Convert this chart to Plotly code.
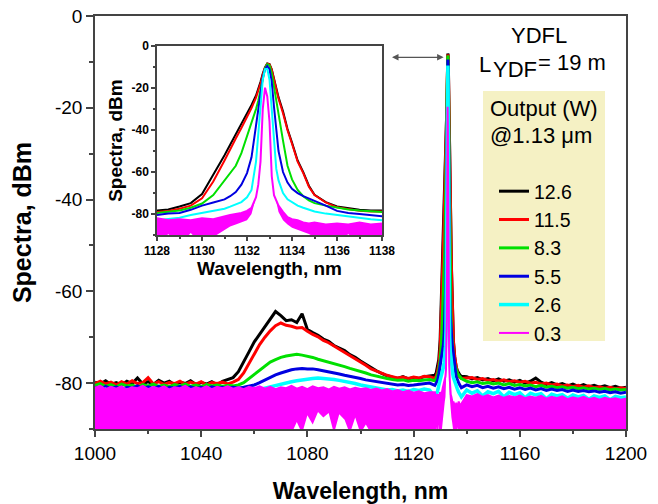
import plotly.graph_objects as go

# ---------------- data ----------------
wl_left = list(range(1000, 1128, 2))          # 1000 ... 1126 nm
wl_peak = [1128, 1128.5, 1129, 1129.5, 1130, 1130.5, 1131, 1131.25, 1131.5, 1131.75,
           1132, 1132.2, 1132.4, 1132.5, 1132.6, 1132.7, 1132.8, 1132.9, 1133.0, 1133.1,
           1133.2, 1133.3, 1133.4, 1133.6, 1133.8, 1134, 1134.25, 1134.5, 1134.75, 1135,
           1135.5, 1136, 1136.5, 1137, 1137.5, 1138]
wl_right = list(range(1140, 1202, 2))         # 1140 ... 1200 nm

power_labels = ["12.6", "11.5", "8.3", "5.5", "2.6", "0.3"]
colors = ["#000000", "#FF0000", "#00E000", "#0000E0", "#00FFFF", "#FF00FF"]

# 12.6 W
black_left = [-79.8, -80.2, -79.5, -80.3, -79.9, -80.4, -79.6, -80.1, -78.9, -80.2, -79.7, -80.3, -79.4,
              -80.0, -79.6, -80.4, -79.8, -80.1, -79.5, -80.3, -79.9, -80.2, -79.7, -80.4, -79.6, -79.2,
              -78.8, -77.5, -75.5, -73.2, -71.0, -69.3, -67.8, -66.0, -64.4, -65.3, -66.4, -66.2, -66.8,
              -64.9, -68.3, -69.0, -69.6, -70.4, -70.9, -71.8, -72.4, -72.9, -73.8, -74.4, -75.2, -75.9,
              -76.7, -77.3, -77.9, -78.4, -78.7, -79.0, -78.6, -79.1, -78.8, -79.0, -78.6, -78.4]
black_peak = [-78.3, -77.8, -76.4, -74.8, -70.5, -61.5, -52.0, -47.0, -42.0, -37.5,
              -32.5, -28.0, -23.5, -20.5, -17.0, -13.0, -10.0, -8.2, -8.5, -11.0,
              -15.5, -20.0, -24.3, -31.0, -39.5, -46.0, -54.5, -60.0, -66.5, -70.8,
              -74.3, -76.4, -77.3, -78.0, -78.3, -78.5]
black_right = [-78.6, -79.1, -78.8, -79.3, -79.0, -79.5, -79.1, -79.6, -79.3, -79.8, -79.4, -80.0, -79.6,
               -78.9, -79.8, -80.3, -79.9, -80.4, -80.1, -80.6, -80.2, -80.7, -80.3, -80.8, -80.5, -80.9,
               -80.6, -81.0, -80.7, -81.1, -80.9]

# 11.5 W
red_left = [-80.1, -79.6, -80.2, -79.8, -80.4, -79.7, -80.2, -79.5, -80.1, -79.9, -78.8, -80.2, -79.7,
            -80.3, -79.9, -80.1, -79.6, -80.3, -79.8, -80.2, -79.7, -80.4, -79.9, -80.1, -79.8, -80.2,
            -79.8, -79.2, -77.8, -75.8, -73.6, -71.6, -70.0, -68.6, -67.5, -66.9, -67.4, -67.6, -68.0,
            -67.9, -68.7, -69.4, -69.9, -70.7, -71.2, -71.9, -72.6, -73.2, -74.0, -74.7, -75.4, -76.1,
            -76.9, -77.4, -77.9, -78.3, -78.6, -78.9, -78.7, -79.0, -78.7, -78.9, -78.5, -78.6]
red_peak = [-79.0, -78.5, -77.5, -76.0, -72.5, -64.5, -54.5, -49.0, -44.0, -39.0,
            -34.0, -29.5, -24.5, -21.5, -17.8, -13.5, -10.3, -8.4, -8.7, -11.3,
            -16.0, -20.5, -25.0, -32.0, -40.0, -46.5, -55.0, -60.5, -67.0, -71.0,
            -74.5, -76.8, -77.8, -78.5, -78.8, -79.0]
red_right = [-78.9, -78.8, -79.2, -79.0, -79.4, -79.2, -79.6, -79.3, -79.7, -79.5, -79.8, -79.6, -80.0,
             -79.8, -80.2, -80.0, -80.4, -80.2, -80.6, -80.4, -80.8, -80.5, -80.9, -80.6, -81.0, -80.8,
             -81.1, -80.9, -81.2, -81.0, -81.2]

# 8.3 W
green_left = [-80.5, -80.1, -80.7, -80.3, -80.8, -80.2, -80.6, -80.4, -80.9, -80.3, -80.6, -80.2, -80.7,
              -80.4, -80.8, -80.3, -80.6, -80.2, -80.7, -80.4, -80.8, -80.3, -80.6, -80.4, -80.7, -80.5,
              -80.6, -80.4, -79.9, -79.0, -78.0, -77.0, -76.1, -75.4, -74.9, -74.4, -74.1, -73.9, -73.7,
              -73.9, -74.1, -74.4, -74.8, -75.1, -75.5, -75.8, -76.1, -76.4, -76.8, -77.1, -77.5, -77.8,
              -78.2, -78.5, -78.8, -79.0, -79.2, -79.4, -79.3, -79.6, -79.4, -79.5, -79.3, -79.2]
green_peak = [-79.5, -79.0, -78.3, -77.0, -75.0, -71.0, -64.0, -60.5, -57.0, -51.0,
              -43.0, -37.0, -30.0, -26.0, -20.5, -14.5, -10.5, -8.6, -9.2, -13.0,
              -19.5, -26.5, -33.5, -45.0, -57.0, -63.5, -68.5, -71.5, -73.5, -74.8,
              -76.0, -77.0, -77.8, -78.3, -78.8, -79.0]
green_right = [-79.6, -79.9, -79.7, -80.1, -79.9, -80.2, -80.0, -80.4, -80.1, -80.5, -80.3, -80.6, -80.4,
               -80.8, -80.5, -80.9, -80.7, -81.0, -80.8, -81.1, -80.9, -81.2, -81.0, -81.3, -81.1, -81.4,
               -81.2, -81.5, -81.3, -81.5, -81.4]

# 5.5 W
blue_left = [-80.9, -81.4, -80.7, -81.2, -80.8, -81.5, -80.9, -81.1, -80.6, -81.3, -80.8, -81.2, -80.7,
             -81.4, -80.9, -81.1, -80.7, -81.3, -80.8, -81.2, -80.9, -81.4, -80.8, -81.1, -80.9, -81.2,
             -80.9, -81.1, -80.9, -80.7, -80.4, -79.9, -79.3, -78.7, -78.2, -77.8, -77.4, -77.1, -76.9,
             -76.8, -76.9, -76.9, -77.1, -77.3, -77.5, -77.8, -78.0, -78.3, -78.5, -78.8, -79.0, -79.3,
             -79.5, -79.7, -79.9, -80.1, -80.2, -80.4, -80.3, -80.5, -80.4, -80.3, -80.1, -80.0]
blue_peak = [-80.5, -79.8, -79.5, -78.0, -76.0, -74.5, -73.0, -71.5, -69.5, -66.0,
             -60.5, -53.0, -38.0, -29.0, -22.0, -15.0, -11.0, -9.5, -11.0, -17.0,
             -29.0, -41.5, -50.0, -60.0, -65.0, -68.0, -70.0, -71.5, -72.6, -73.5,
             -76.0, -78.5, -79.5, -80.0, -80.5, -81.0]
blue_right = [-80.4, -80.8, -80.5, -81.0, -80.7, -81.1, -80.8, -81.2, -80.9, -81.3, -81.0, -81.4, -81.1,
              -81.5, -81.2, -81.6, -81.3, -81.6, -81.4, -81.8, -81.5, -81.8, -81.6, -81.9, -81.7, -82.0,
              -81.8, -82.1, -81.9, -82.2, -82.0]

# 2.6 W
cyan_left = [-81.6, -82.3, -81.4, -82.8, -81.7, -82.1, -81.5, -83.2, -81.8, -82.0, -81.6, -82.6, -81.5,
             -82.2, -81.7, -83.0, -81.6, -82.1, -81.8, -82.5, -81.5, -82.2, -81.9, -82.7, -81.6, -82.1,
             -81.7, -82.3, -81.8, -82.0, -81.6, -81.5, -81.1, -80.8, -80.5, -80.2, -80.0, -79.7, -79.5,
             -79.3, -79.1, -79.0, -78.9, -79.0, -79.0, -79.2, -79.4, -79.6, -79.9, -80.1, -80.4, -80.6,
             -80.9, -81.1, -81.3, -81.5, -81.4, -81.7, -81.5, -81.8, -81.4, -81.6, -81.3, -81.5]
cyan_peak = [-83.0, -82.5, -81.8, -80.5, -79.5, -78.3, -77.5, -76.5, -75.5, -74.3,
             -72.0, -68.5, -55.0, -41.5, -27.0, -16.0, -11.0, -10.8, -16.0, -30.0,
             -43.0, -58.5, -64.0, -70.0, -73.0, -74.5, -76.0, -77.0, -78.0, -78.8,
             -79.8, -80.5, -81.3, -82.0, -82.5, -83.0]
cyan_right = [-81.5, -82.2, -81.7, -82.8, -81.9, -82.3, -81.8, -83.0, -82.0, -82.5, -82.1, -83.2, -82.2,
              -82.6, -82.3, -83.4, -82.4, -82.8, -82.5, -83.3, -82.6, -83.0, -82.7, -83.5, -82.8, -83.1,
              -82.8, -83.6, -82.9, -83.2, -83.0]

# 0.3 W : upper edge of the noisy trace and lower edge of its noise floor
mag_up_left = [-81.0, -80.6, -81.3, -80.8, -81.2, -80.7, -81.4, -80.9, -81.1, -80.6, -81.3, -80.8, -81.2,
               -80.7, -81.4, -80.9, -81.1, -80.6, -81.3, -80.9, -81.2, -80.7, -81.3, -80.8, -81.1, -80.7,
               -81.2, -80.9, -81.3, -80.8, -81.1, -80.7, -81.2, -80.8, -81.3, -80.9, -81.1, -80.6, -81.2,
               -80.8, -81.3, -80.7, -81.1, -80.9, -81.4, -80.8, -81.2, -80.9, -81.4, -81.0, -81.3, -81.1,
               -81.5, -81.2, -81.6, -81.3, -81.8, -81.5, -82.0, -81.6, -82.1, -81.8, -82.2, -82.0]
mag_up_peak = [-82.0, -83.0, -82.5, -83.0, -82.0, -82.5, -81.0, -80.5, -80.0, -79.5,
               -78.5, -77.0, -72.0, -66.0, -55.0, -30.0, -19.8, -24.0, -36.0, -62.0,
               -71.0, -74.0, -76.0, -79.0, -81.5, -82.5, -83.0, -84.0, -84.5, -84.0,
               -85.0, -84.5, -85.0, -84.0, -85.0, -84.5]
mag_up_right = [-82.6, -82.9, -82.4, -83.0, -82.6, -83.1, -82.7, -83.2, -82.8, -83.1, -82.7, -83.3, -82.9,
                -83.2, -82.8, -83.4, -83.0, -83.3, -82.9, -83.5, -83.1, -83.4, -83.0, -83.5, -83.2, -83.6,
                -83.2, -83.5, -83.3, -83.6, -83.4]
mag_low_left = [-95.0] * 37 + [-91.0, -88.5, -91.0, -87.0, -89.0, -86.3, -87.5, -86.5, -91.0, -86.8,
                               -88.0, -91.0, -87.5, -91.0, -89.0, -91.0] + [-95.0] * 11
mag_low_peak = [-95.0, -89.5, -95.0, -89.0, -95.0, -91.0, -87.5, -86.0, -85.0, -84.0,
                -83.0, -80.0, -72.0, -66.0, -55.0, -30.0, -19.8, -24.0, -36.0, -62.0,
                -71.0, -74.0, -79.0, -83.0, -85.0, -86.5, -87.5, -88.5, -89.5, -91.0,
                -93.0, -95.0, -89.5, -95.0, -90.0, -95.0]
mag_low_right = [-95.0] * 31

main_xticks = [1000, 1040, 1080, 1120, 1160, 1200]
main_yticks = [0, -20, -40, -60, -80]
inset_xticks = [1128, 1130, 1132, 1134, 1136, 1138]
inset_yticks = [0, -20, -40, -60, -80]

# ---------------- assemble ----------------
wl = wl_left + wl_peak + wl_right
series = [
    black_left + black_peak + black_right,
    red_left + red_peak + red_right,
    green_left + green_peak + green_right,
    blue_left + blue_peak + blue_right,
    cyan_left + cyan_peak + cyan_right,
]
mag_up = mag_up_left + mag_up_peak + mag_up_right
mag_low = mag_low_left + mag_low_peak + mag_low_right

FONT = "Liberation Sans, Arial, sans-serif"
fig = go.Figure()

main_widths = [3, 3, 3, 3, 3.5]
inset_widths = [2, 2, 2, 2, 2]
for axes, widths, show in [(("x", "y"), main_widths, True), (("x2", "y2"), inset_widths, False)]:
    xa, ya = axes
    for i, ys in enumerate(series):
        fig.add_trace(go.Scatter(x=wl, y=ys, mode="lines", name=power_labels[i],
                                 line=dict(color=colors[i], width=widths[i]),
                                 showlegend=show, xaxis=xa, yaxis=ya))
    fig.add_trace(go.Scatter(x=wl, y=mag_low, mode="lines", line=dict(width=0, color=colors[5]),
                             showlegend=False, hoverinfo="skip", xaxis=xa, yaxis=ya))
    fig.add_trace(go.Scatter(x=wl, y=mag_up, mode="lines", fill="tonexty", fillcolor=colors[5],
                             line=dict(width=0, color=colors[5]),
                             showlegend=False, hoverinfo="skip", xaxis=xa, yaxis=ya))
    fig.add_trace(go.Scatter(x=wl, y=mag_up, mode="lines", name=power_labels[5],
                             line=dict(color=colors[5], width=2),
                             showlegend=show, xaxis=xa, yaxis=ya))

axis_common = dict(showgrid=False, zeroline=False, showline=True, linecolor="#444",
                   linewidth=1.5, mirror=True, ticks="outside", tickcolor="#444", tickwidth=1.5,
                   automargin=False)


def px_x(p):
    return (p - 95) / 531.0


def px_y(p):
    return (429 - p) / 413.0


fig.update_layout(
    width=658, height=504,
    margin=dict(l=95, r=32, t=16, b=75, autoexpand=False),
    paper_bgcolor="white", plot_bgcolor="rgba(0,0,0,0)",
    font=dict(family=FONT, color="#000"),
    xaxis=dict(range=[1000, 1200], tickvals=main_xticks, ticklen=6,
               tickfont=dict(size=19),
               minor=dict(dtick=20, tick0=1000, ticks="outside", ticklen=3, tickcolor="#444"),
               title=dict(text="<b>Wavelength, nm</b>", font=dict(size=23), standoff=27),
               **axis_common),
    yaxis=dict(range=[-90, 0], tickvals=main_yticks, ticktext=[str(v) for v in main_yticks],
               ticklen=7, tickfont=dict(size=19),
               minor=dict(dtick=10, tick0=0, ticks="outside", ticklen=4, tickcolor="#444"),
               title=dict(text="<b>Spectra, dBm</b>", font=dict(size=25), standoff=16),
               **axis_common),
    xaxis2=dict(domain=[0.1168, 0.5405], anchor="y2", range=[1128, 1138], tickvals=inset_xticks,
                ticklen=4, tickfont=dict(size=12, weight="bold"),
                minor=dict(dtick=1, tick0=1128, ticks="outside", ticklen=2, tickcolor="#444"),
                title=dict(text="<b>Wavelength, nm</b>", font=dict(size=19), standoff=4),
                **axis_common),
    yaxis2=dict(domain=[0.4697, 0.927], anchor="x2", range=[-90, 0], tickvals=inset_yticks,
                ticktext=[str(v) for v in inset_yticks], ticklen=4,
                tickfont=dict(size=12, weight="bold"),
                minor=dict(dtick=10, tick0=0, ticks="outside", ticklen=2, tickcolor="#444"),
                title=dict(text="<b>Spectra, dBm</b>", font=dict(size=19), standoff=4),
                **axis_common),
    legend=dict(x=px_x(494), y=px_y(172), xanchor="left", yanchor="top",
                bgcolor="rgba(0,0,0,0)", borderwidth=0, font=dict(size=19.5),
                traceorder="normal", tracegroupgap=0),
    showlegend=True,
)

# beige panel behind the legend
fig.add_shape(type="rect", xref="paper", yref="paper", layer="below",
              x0=px_x(483), x1=px_x(605), y0=px_y(341), y1=px_y(91),
              fillcolor="#F5F1C4", line=dict(width=0))

fig.add_annotation(x=1131.3, y=-9, ax=1111.3, ay=-9, xref="x", yref="y", axref="x", ayref="y",
                   text="", showarrow=True, arrowhead=2, startarrowhead=2, arrowside="end+start",
                   arrowsize=1, arrowwidth=1.3, arrowcolor="#555")

texts = [
    ("YDFL", 538.5, 36, "center"),
    ("L", 478, 64, "left"),
    ("YDF", 491.5, 69, "left"),
    ("= 19 m", 537, 63, "left"),
    ("Output (W)", 489, 108, "left"),
    ("@1.13 \u03bcm", 489, 135, "left"),
]
for t, xp, yp, anc in texts:
    fig.add_annotation(x=px_x(xp), y=px_y(yp), xref="paper", yref="paper", text=t, showarrow=False,
                       font=dict(size=22), xanchor=anc, yanchor="middle", borderpad=0)

fig.write_html("out.html")
